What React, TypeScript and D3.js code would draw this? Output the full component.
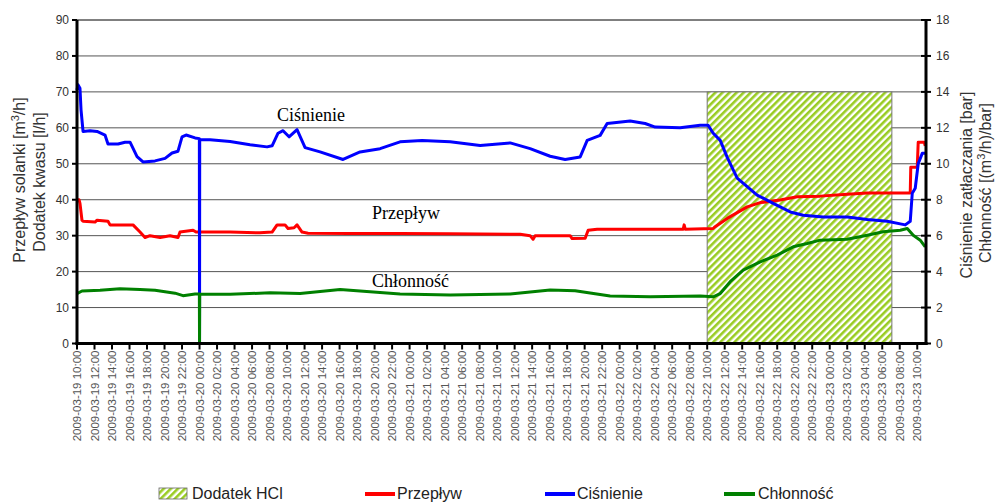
import React from "react";
import * as d3 from "d3";

// hours since 2009-03-19 10:00
const przeplyw: [number, number][] = [
  [0, 40], [0.23, 40], [0.34, 39], [0.57, 34.3], [0.69, 34], [2.06, 33.8], [2.29, 34.3],
  [3.54, 34], [3.77, 33], [6.4, 33], [7.2, 31], [7.77, 29.5], [8.34, 30], [9.49, 29.5],
  [10.63, 30], [11.54, 29.5], [11.77, 31], [13.26, 31.5], [13.6, 31], [17.49, 31],
  [20.9, 30.8], [22.29, 31], [22.86, 33], [23.77, 33], [24.11, 32], [24.8, 32.2],
  [25.14, 33], [25.71, 31], [26.4, 30.7], [31.2, 30.6], [36.91, 30.6], [42.63, 30.5],
  [50.63, 30.4], [51.77, 30], [52.11, 29], [52.34, 30], [56.34, 30], [56.57, 29.2],
  [58.06, 29.3], [58.4, 31.5], [59.43, 31.8], [69.26, 31.8], [69.37, 33], [69.49, 31.8],
  [72.69, 32], [72.91, 32.5], [74.29, 34.8], [76.57, 38], [78.06, 39.2], [80.34, 39.9],
  [82.29, 40.8], [84.91, 41], [88.0, 41.5], [90.29, 41.9], [95.2, 41.9], [95.26, 49],
  [96.0, 49], [96.11, 56], [96.8, 56], [96.91, 55],
];

const cisnienie: [number, number][] = [
  [0, 14.1], [0.11, 14.4], [0.34, 14.2], [0.46, 13.0], [0.69, 11.8], [1.49, 11.84],
  [2.29, 11.8], [3.2, 11.6], [3.54, 11.1], [4.69, 11.1], [5.49, 11.2], [6.06, 11.2],
  [6.86, 10.4], [7.54, 10.1], [8.91, 10.16], [10.06, 10.3], [10.86, 10.6], [11.54, 10.7],
  [12.0, 11.5], [12.46, 11.6], [13.49, 11.44], [13.98, 11.4], [14.0, 0], [14.02, 11.35],
  [15.2, 11.34], [17.49, 11.24], [19.77, 11.06], [21.71, 10.94], [22.29, 11.0],
  [22.97, 11.7], [23.54, 11.84], [24.23, 11.5], [25.14, 11.9], [26.06, 10.9],
  [27.77, 10.66], [30.4, 10.24], [32.34, 10.66], [34.63, 10.84], [36.91, 11.22],
  [39.43, 11.3], [42.63, 11.22], [46.06, 11.02], [49.49, 11.16], [51.77, 10.84],
  [54.06, 10.42], [55.77, 10.24], [57.49, 10.38], [58.29, 11.3], [59.77, 11.58],
  [60.57, 12.24], [63.2, 12.38], [64.91, 12.24], [66.06, 12.04], [68.91, 12.0],
  [71.2, 12.14], [72.11, 12.14], [72.69, 11.7], [73.49, 11.3], [74.29, 10.36],
  [75.43, 9.2], [77.71, 8.26], [79.54, 7.8], [81.49, 7.32], [82.97, 7.14], [85.26, 7.04],
  [88.0, 7.04], [90.29, 6.9], [92.57, 6.8], [94.63, 6.6], [95.2, 6.8], [95.43, 8.36],
  [95.77, 8.64], [96.11, 10.0], [96.57, 10.58], [96.91, 10.58],
];

const chlonnosc: [number, number][] = [
  [0, 2.78], [0.57, 2.92], [2.63, 2.96], [4.91, 3.04], [7.2, 3.0], [8.91, 2.96],
  [10.06, 2.88], [11.2, 2.8], [12.11, 2.66], [13.49, 2.76], [13.98, 2.76], [14.0, 0],
  [14.02, 2.74], [17.49, 2.74], [22.06, 2.82], [25.49, 2.78], [30.06, 3.0], [36.91, 2.75],
  [42.63, 2.7], [49.49, 2.75], [54.06, 2.98], [56.91, 2.94], [60.91, 2.64], [65.49, 2.6],
  [71.2, 2.64], [72.69, 2.6], [73.49, 2.78], [74.63, 3.44], [76.11, 4.08], [78.06, 4.54],
  [80.0, 4.92], [81.83, 5.38], [83.43, 5.56], [84.91, 5.75], [88.0, 5.8], [90.29, 6.02],
  [92.11, 6.22], [94.06, 6.3], [94.86, 6.4], [95.54, 6.02], [96.34, 5.75], [96.91, 5.38],
];

const hclPeriod = [72, 93.1]; // hours
const hclTop = 70;
const leftTicks = [0, 10, 20, 30, 40, 50, 60, 70, 80, 90];
const rightTicks = [0, 2, 4, 6, 8, 10, 12, 14, 16, 18];
const legendItems = ["Dodatek HCl", "Przepływ", "Ciśnienie", "Chłonność"];

const start = Date.UTC(2009, 2, 19, 10, 0);
const toDate = (h: number) => new Date(start + h * 3600e3);

export default function App() {
  const W = 995, H = 504;
  const x = d3.scaleUtc().domain([toDate(0), toDate(97)]).range([77, 926]);
  const yL = d3.scaleLinear().domain([0, 90]).range([343.5, 20]);
  const yR = d3.scaleLinear().domain([0, 18]).range([343.5, 20]);
  const xTicks = x.ticks(d3.utcHour.every(2)!).filter((d) => d <= toDate(96));
  const fmt = d3.utcFormat("%Y-%m-%d %H:%M");

  const lineL = d3.line<[number, number]>().x((d) => x(toDate(d[0]))).y((d) => yL(d[1]));
  const lineR = d3.line<[number, number]>().x((d) => x(toDate(d[0]))).y((d) => yR(d[1]));

  const sans = "Liberation Sans, Arial, sans-serif";
  const serif = "Liberation Serif, Times New Roman, serif";
  const x0 = x.range()[0], x1 = x.range()[1];

  return (
    <svg width={W} height={H} style={{ position: "absolute", left: 0, top: 0, background: "#fff" }}>
      <defs>
        <pattern id="hatch" patternUnits="userSpaceOnUse" width={5} height={5} patternTransform="rotate(45)">
          <rect width={5} height={5} fill="#fff" />
          <rect width={2.6} height={5} fill="#99cc22" />
        </pattern>
      </defs>

      {/* grid */}
      {leftTicks.filter((t) => t > 0).map((t) => (
        <line key={t} x1={x0} x2={x1} y1={yL(t)} y2={yL(t)} stroke={t === 90 ? "#000" : "#555"} strokeWidth={1} />
      ))}

      {/* HCl dosing */}
      <rect
        x={x(toDate(hclPeriod[0]))}
        y={yL(hclTop)}
        width={x(toDate(hclPeriod[1])) - x(toDate(hclPeriod[0]))}
        height={yL(0) - yL(hclTop)}
        fill="url(#hatch)"
        stroke="#777"
        strokeWidth={1}
      />

      <path d={lineL(przeplyw)!} fill="none" stroke="#ff0000" strokeWidth={3} strokeLinejoin="round" />
      <path d={lineR(cisnienie)!} fill="none" stroke="#0000ff" strokeWidth={3} strokeLinejoin="round" />
      <path d={lineR(chlonnosc)!} fill="none" stroke="#008000" strokeWidth={3} strokeLinejoin="round" />

      {/* axes */}
      <line x1={x0} x2={x0} y1={20} y2={yL(0) + 1.5} stroke="#000" strokeWidth={3} />
      <line x1={x1} x2={x1} y1={20} y2={yL(0) + 1.5} stroke="#000" strokeWidth={3} />
      <line x1={x0 - 1.5} x2={x1 + 1.5} y1={yL(0)} y2={yL(0)} stroke="#000" strokeWidth={3} />

      {leftTicks.map((t) => (
        <g key={"l" + t}>
          <line x1={x0 - 5} x2={x0} y1={yL(t)} y2={yL(t)} stroke="#000" strokeWidth={2} />
          <text x={x0 - 8} y={yL(t)} dy="0.35em" textAnchor="end" fontFamily={sans} fontSize={12} fill="#333">{t}</text>
        </g>
      ))}
      {rightTicks.map((t) => (
        <g key={"r" + t}>
          <line x1={x1 - 5} x2={x1 + 5} y1={yR(t)} y2={yR(t)} stroke="#000" strokeWidth={2} />
          <text x={x1 + 10} y={yR(t)} dy="0.35em" fontFamily={sans} fontSize={12} fill="#333">{t}</text>
        </g>
      ))}
      {xTicks.map((d) => (
        <g key={+d} transform={`translate(${x(d)},0)`}>
          <line y1={yL(0)} y2={yL(0) + 6} stroke="#000" strokeWidth={2} />
          <text
            transform={`translate(0,${yL(0) + 7}) rotate(-90)`}
            dy="0.35em"
            textAnchor="end"
            fontFamily={sans}
            fontSize={11.5}
            fill="#555"
          >
            {fmt(d)}
          </text>
        </g>
      ))}

      {/* axis titles */}
      <g fontFamily={sans} fontSize={16} fill="#333" textAnchor="middle">
        <text transform="translate(19,180) rotate(-90)" dy="0.35em">
          Przepływ solanki [m<tspan dy="-6" fontSize={11}>3</tspan><tspan dy="6">/h]</tspan>
        </text>
        <text transform="translate(39,182) rotate(-90)" dy="0.35em">Dodatek kwasu [l/h]</text>
        <text transform="translate(966,185) rotate(-90)" dy="0.35em">Ciśnienie zatłaczania [bar]</text>
        <text transform="translate(985,183) rotate(-90)" dy="0.35em">
          Chłonność [(m<tspan dy="-6" fontSize={11}>3</tspan><tspan dy="6">/h)/bar]</tspan>
        </text>
      </g>

      {/* series labels */}
      <g fontFamily={serif} fontSize={18} fill="#000">
        <text x={277} y={121}>Ciśnienie</text>
        <text x={372} y={219}>Przepływ</text>
        <text x={372} y={287}>Chłonność</text>
      </g>

      {/* legend */}
      <g fontFamily={sans} fontSize={16} fill="#222">
        <rect x={159} y={488} width={28} height={11} fill="url(#hatch)" stroke="#666" strokeWidth={0.8} />
        <text x={192} y={499}>{legendItems[0]}</text>
        <line x1={365} x2={395} y1={494} y2={494} stroke="#ff0000" strokeWidth={4} />
        <text x={397} y={499}>{legendItems[1]}</text>
        <line x1={545} x2={575} y1={494} y2={494} stroke="#0000ff" strokeWidth={4} />
        <text x={577} y={499}>{legendItems[2]}</text>
        <line x1={724} x2={755} y1={494} y2={494} stroke="#008000" strokeWidth={4} />
        <text x={758} y={499}>{legendItems[3]}</text>
      </g>
    </svg>
  );
}
